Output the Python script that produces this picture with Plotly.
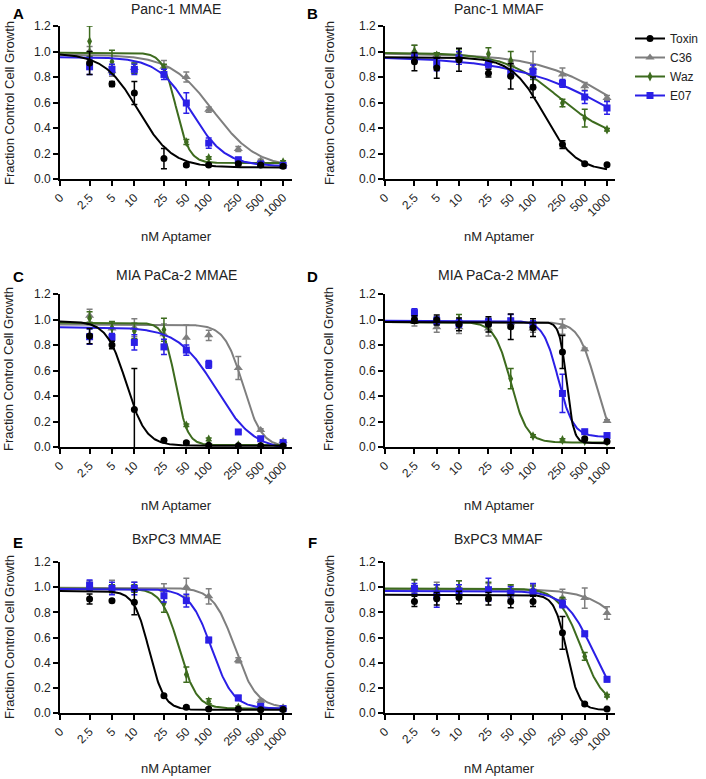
import numpy as np
import plotly.graph_objects as go

# ---------------- data ----------------
doses = [2.5, 5, 10, 25, 50, 100, 250, 500, 1000]
tick_vals = [1, 2.5, 5, 10, 25, 50, 100, 250, 500, 1000]
tick_text = ["0", "2.5", "5", "10", "25", "50", "100", "250", "500", "1000"]
y_ticks = [0.0, 0.2, 0.4, 0.6, 0.8, 1.0, 1.2]

series = ["Toxin", "C36", "Waz", "E07"]
panel_letters = ["A", "B", "C", "D", "E", "F"]
panel_titles = ["Panc-1 MMAE", "Panc-1 MMAF", "MIA PaCa-2 MMAE",
                "MIA PaCa-2 MMAF", "BxPC3 MMAE", "BxPC3 MMAF"]
x_title = "nM Aptamer"
y_title = "Fraction Control Cell Growth"

# mean values per panel
mean_A = {"Toxin": [0.91, 0.745, 0.675, 0.16, 0.11, 0.11, 0.12, 0.11, 0.10],
          "C36":   [1.00, 0.845, 0.87, 0.88, 0.80, 0.544, 0.235, 0.145, 0.12],
          "Waz":   [1.08, 0.92, 0.87, 0.87, 0.29, 0.165, 0.125, 0.12, 0.133],
          "E07":   [0.88, 0.86, 0.86, 0.82, 0.596, 0.282, 0.15, 0.118, 0.107]}
mean_B = {"Toxin": [0.92, 0.87, 0.935, 0.83, 0.805, 0.72, 0.27, 0.12, 0.112],
          "C36":   [1.00, 0.97, 0.96, 0.92, 0.90, 0.87, 0.82, 0.727, 0.635],
          "Waz":   [1.00, 0.97, 0.99, 0.98, 0.93, 0.81, 0.596, 0.478, 0.387],
          "E07":   [0.95, 0.90, 0.95, 0.90, 0.83, 0.845, 0.75, 0.643, 0.557]}
mean_C = {"Toxin": [0.87, 0.80, 0.295, 0.052, 0.034, 0.013, 0.01, 0.01, 0.008],
          "C36":   [1.03, 0.93, 0.935, 0.884, 0.857, 0.876, 0.62, 0.133, 0.047],
          "Waz":   [1.01, 0.935, 0.91, 0.92, 0.17, 0.06, 0.015, 0.012, 0.012],
          "E07":   [0.865, 0.86, 0.82, 0.785, 0.76, 0.648, 0.118, 0.065, 0.034]}
mean_D = {"Toxin": [1.00, 0.996, 0.962, 0.962, 0.944, 0.936, 0.745, 0.065, 0.044],
          "C36":   [0.98, 0.94, 0.94, 0.93, 0.97, 0.93, 0.944, 0.766, 0.204],
          "Waz":   [1.00, 0.99, 1.00, 0.975, 0.536, 0.086, 0.055, 0.047, 0.04],
          "E07":   [1.054, 0.99, 0.97, 0.98, 0.99, 0.96, 0.42, 0.12, 0.09]}
mean_E = {"Toxin": [0.906, 0.893, 0.88, 0.138, 0.045, 0.032, 0.03, 0.026, 0.028],
          "C36":   [1.01, 1.004, 1.00, 0.977, 1.00, 0.927, 0.42, 0.098, 0.045],
          "Waz":   [1.00, 0.99, 0.99, 0.87, 0.305, 0.093, 0.045, 0.035, 0.03],
          "E07":   [1.017, 0.99, 0.99, 0.932, 0.893, 0.58, 0.12, 0.053, 0.035]}
mean_F = {"Toxin": [0.887, 0.908, 0.918, 0.908, 0.887, 0.887, 0.637, 0.071, 0.032],
          "C36":   [1.005, 0.99, 0.99, 0.98, 0.966, 0.98, 0.913, 0.913, 0.795],
          "Waz":   [1.00, 0.98, 1.00, 0.99, 0.98, 0.98, 0.887, 0.45, 0.137],
          "E07":   [0.99, 0.93, 0.97, 0.98, 0.953, 0.96, 0.866, 0.629, 0.268]}

# error bars (SEM) per panel
err_A = {"Toxin": [0.09, 0.02, 0.09, 0.08, 0.01, 0.01, 0.01, 0.01, 0.01],
         "C36":   [0.04, 0.04, 0.04, 0.05, 0.04, 0.02, 0.02, 0.01, 0.01],
         "Waz":   [0.12, 0.09, 0.04, 0.03, 0.02, 0.01, 0.01, 0.01, 0.01],
         "E07":   [0.06, 0.04, 0.04, 0.04, 0.08, 0.04, 0.02, 0.01, 0.01]}
err_B = {"Toxin": [0.07, 0.08, 0.09, 0.03, 0.10, 0.08, 0.03, 0.01, 0.01],
         "C36":   [0.05, 0.02, 0.03, 0.03, 0.02, 0.13, 0.05, 0.03, 0.02],
         "Waz":   [0.05, 0.02, 0.03, 0.05, 0.07, 0.03, 0.03, 0.07, 0.01],
         "E07":   [0.03, 0.05, 0.05, 0.03, 0.03, 0.05, 0.03, 0.05, 0.05]}
err_C = {"Toxin": [0.06, 0.03, 0.32, 0.01, 0.01, 0.0, 0.0, 0.0, 0.0],
         "C36":   [0.05, 0.05, 0.07, 0.08, 0.10, 0.04, 0.09, 0.01, 0.01],
         "Waz":   [0.05, 0.05, 0.06, 0.09, 0.01, 0.01, 0.0, 0.0, 0.0],
         "E07":   [0.06, 0.03, 0.06, 0.06, 0.04, 0.03, 0.01, 0.01, 0.01]}
err_D = {"Toxin": [0.03, 0.04, 0.05, 0.06, 0.10, 0.07, 0.13, 0.01, 0.01],
         "C36":   [0.03, 0.04, 0.05, 0.06, 0.04, 0.03, 0.06, 0.01, 0.01],
         "Waz":   [0.03, 0.03, 0.04, 0.03, 0.08, 0.01, 0.01, 0.01, 0.01],
         "E07":   [0.03, 0.03, 0.03, 0.03, 0.05, 0.03, 0.15, 0.01, 0.01]}
err_E = {"Toxin": [0.04, 0.01, 0.10, 0.01, 0.01, 0.01, 0.01, 0.01, 0.01],
         "C36":   [0.04, 0.05, 0.04, 0.05, 0.07, 0.06, 0.02, 0.01, 0.01],
         "Waz":   [0.03, 0.03, 0.03, 0.07, 0.06, 0.02, 0.01, 0.01, 0.01],
         "E07":   [0.04, 0.05, 0.05, 0.05, 0.05, 0.02, 0.02, 0.01, 0.01]}
err_F = {"Toxin": [0.04, 0.05, 0.05, 0.05, 0.05, 0.04, 0.13, 0.01, 0.01],
         "C36":   [0.05, 0.05, 0.06, 0.05, 0.05, 0.04, 0.07, 0.08, 0.05],
         "Waz":   [0.06, 0.04, 0.05, 0.05, 0.04, 0.03, 0.03, 0.03, 0.01],
         "E07":   [0.04, 0.09, 0.05, 0.09, 0.05, 0.07, 0.03, 0.02, 0.02]}

# dose-response fit parameters: (top, bottom, IC50, Hill)
fit_A = {"Toxin": (0.985, 0.09, 11.3, 1.9), "C36": (0.975, 0.09, 116, 1.5),
         "Waz": (0.99, 0.125, 36.5, 4.8), "E07": (0.955, 0.10, 58, 1.9)}
fit_B = {"Toxin": (0.955, 0.06, 140, 2.0), "C36": (0.985, 0.2, 1500, 0.8),
         "Waz": (0.99, 0.30, 220, 1.2), "E07": (0.96, 0.0, 1800, 0.6)}
fit_C = {"Toxin": (0.985, 0.01, 7.8, 3.3), "C36": (0.96, 0.0, 290, 3.5),
         "Waz": (0.975, 0.015, 36, 5.5), "E07": (0.94, -0.03, 125, 1.7)}
fit_D = {"Toxin": (0.98, 0.03, 285, 9.0), "C36": (0.98, 0.0, 707, 3.75),
         "Waz": (0.98, 0.035, 50, 4.0), "E07": (0.99, 0.08, 219, 4.3)}
fit_E = {"Toxin": (0.97, 0.025, 15.8, 4.3), "C36": (0.995, 0.04, 225, 3.0),
         "Waz": (0.99, 0.035, 40, 3.7), "E07": (0.985, 0.035, 110, 3.0)}
fit_F = {"Toxin": (0.94, 0.025, 286, 5.3), "C36": (0.985, 0.0, 3000, 1.5),
         "Waz": (0.99, 0.05, 449, 2.8), "E07": (0.97, 0.0, 657, 2.26)}

means = [mean_A, mean_B, mean_C, mean_D, mean_E, mean_F]
errs = [err_A, err_B, err_C, err_D, err_E, err_F]
fits = [fit_A, fit_B, fit_C, fit_D, fit_E, fit_F]

# ---------------- styling ----------------
colors = {"Toxin": "#000000", "C36": "#7f7f7f", "Waz": "#3d6b1e", "E07": "#2b1fe6"}
symbols = {"Toxin": "circle", "C36": "triangle-up", "Waz": "diamond-tall", "E07": "square"}
msizes = {"Toxin": 7, "C36": 8, "Waz": 7, "E07": 7}
draw_order = ["C36", "Waz", "E07", "Toxin"]

W, H = 706, 779
FONT = "Liberation Sans, Arial, sans-serif"
TXT = "#222"


def px(x):
    return x / W


def py(y):
    return 1 - y / H


col_dom = [(60, 292), (385, 615)]
col_rng = [3.12, 3.108]
row_dom = [(26, 179), (294, 447), (562, 713)]

fig = go.Figure()
curve_x = np.logspace(0, 3, 300)

for p in range(6):
    r, c = divmod(p, 2)
    ax = "" if p == 0 else str(p + 1)
    for s in draw_order:
        top, bot, ic50, hill = fits[p][s]
        cy = bot + (top - bot) / (1 + (curve_x / ic50) ** hill)
        fig.add_trace(go.Scatter(x=curve_x, y=cy, mode="lines",
                                 line=dict(color=colors[s], width=2),
                                 showlegend=False, hoverinfo="skip",
                                 xaxis="x" + ax, yaxis="y" + ax))
        fig.add_trace(go.Scatter(x=doses, y=means[p][s], mode="markers",
                                 marker=dict(color=colors[s], symbol=symbols[s], size=msizes[s],
                                             line=dict(width=0)),
                                 error_y=dict(type="data", array=errs[p][s], visible=True,
                                              color=colors[s], thickness=1.5, width=3),
                                 cliponaxis=False, showlegend=False,
                                 xaxis="x" + ax, yaxis="y" + ax))
    x0, x1 = col_dom[c]
    y0, y1 = row_dom[r]
    fig.layout["xaxis" + ax] = dict(
        type="log", range=[0, col_rng[c]], domain=[px(x0), px(x1)],
        anchor="y" + ax, tickvals=tick_vals, ticktext=tick_text, tickangle=-45,
        showline=True, linecolor="black", linewidth=1.6, ticks="outside",
        ticklen=5, tickwidth=1.5, tickcolor="black", showgrid=False, zeroline=False,
        automargin=False, tickfont=dict(size=12, color=TXT, family=FONT))
    fig.layout["yaxis" + ax] = dict(
        range=[0, 1.2], domain=[py(y1), py(y0)], anchor="x" + ax,
        tickvals=y_ticks, tickformat=".1f",
        showline=True, linecolor="black", linewidth=1.6, ticks="outside",
        ticklen=5, tickwidth=1.5, tickcolor="black", showgrid=False, zeroline=False,
        automargin=False, tickfont=dict(size=12, color=TXT, family=FONT))

# legend entries
for s in series:
    fig.add_trace(go.Scatter(x=[None], y=[None], mode="lines+markers", name=s,
                             line=dict(color=colors[s], width=2),
                             marker=dict(color=colors[s], symbol=symbols[s], size=msizes[s]),
                             xaxis="x2", yaxis="y2"))

annotations = []
title_pos = [(176, 9), (498, 9), (176, 275), (498, 275), (176, 539), (498, 539)]
letter_pos = [(18, 13), (312, 13), (18, 276), (312, 276), (18, 542), (312, 542)]
xtitle_pos = [(176, 236), (500, 236), (176, 505), (500, 505), (176, 768), (500, 768)]
ytitle_pos = [(9, 103), (329, 103), (9, 369), (329, 369), (9, 637), (329, 637)]
for p in range(6):
    tx, ty = title_pos[p]
    annotations.append(dict(text=panel_titles[p], x=px(tx), y=py(ty), xref="paper",
                            yref="paper", showarrow=False, xanchor="center", yanchor="middle",
                            font=dict(size=14, color=TXT, family=FONT)))
    lx, ly = letter_pos[p]
    annotations.append(dict(text="<b>" + panel_letters[p] + "</b>", x=px(lx), y=py(ly),
                            xref="paper", yref="paper", showarrow=False,
                            xanchor="center", yanchor="middle",
                            font=dict(size=15, color="black", family=FONT)))
    ax_, ay_ = xtitle_pos[p]
    annotations.append(dict(text=x_title, x=px(ax_), y=py(ay_), xref="paper",
                            yref="paper", showarrow=False, xanchor="center", yanchor="middle",
                            font=dict(size=13, color=TXT, family=FONT)))
    bx_, by_ = ytitle_pos[p]
    annotations.append(dict(text=y_title, x=px(bx_), y=py(by_), xref="paper",
                            yref="paper", showarrow=False, xanchor="center", yanchor="middle",
                            textangle=-90, font=dict(size=13, color=TXT, family=FONT)))

fig.update_layout(
    width=W, height=H, margin=dict(l=0, r=0, t=0, b=0, autoexpand=False),
    paper_bgcolor="white", plot_bgcolor="white",
    font=dict(family=FONT, color=TXT),
    annotations=annotations,
    showlegend=True, hovermode=False,
    legend=dict(x=px(630), y=py(24), xanchor="left", yanchor="top",
                font=dict(size=12, family=FONT, color=TXT),
                bgcolor="rgba(0,0,0,0)", itemwidth=30, tracegroupgap=0),
)

# remove the browser's default 8 px page margin so the figure fills the window
fig.write_html("out.html",
               config={"displayModeBar": False},
               post_script="document.body.style.margin='0px';"
                           "document.body.style.overflow='hidden';")
